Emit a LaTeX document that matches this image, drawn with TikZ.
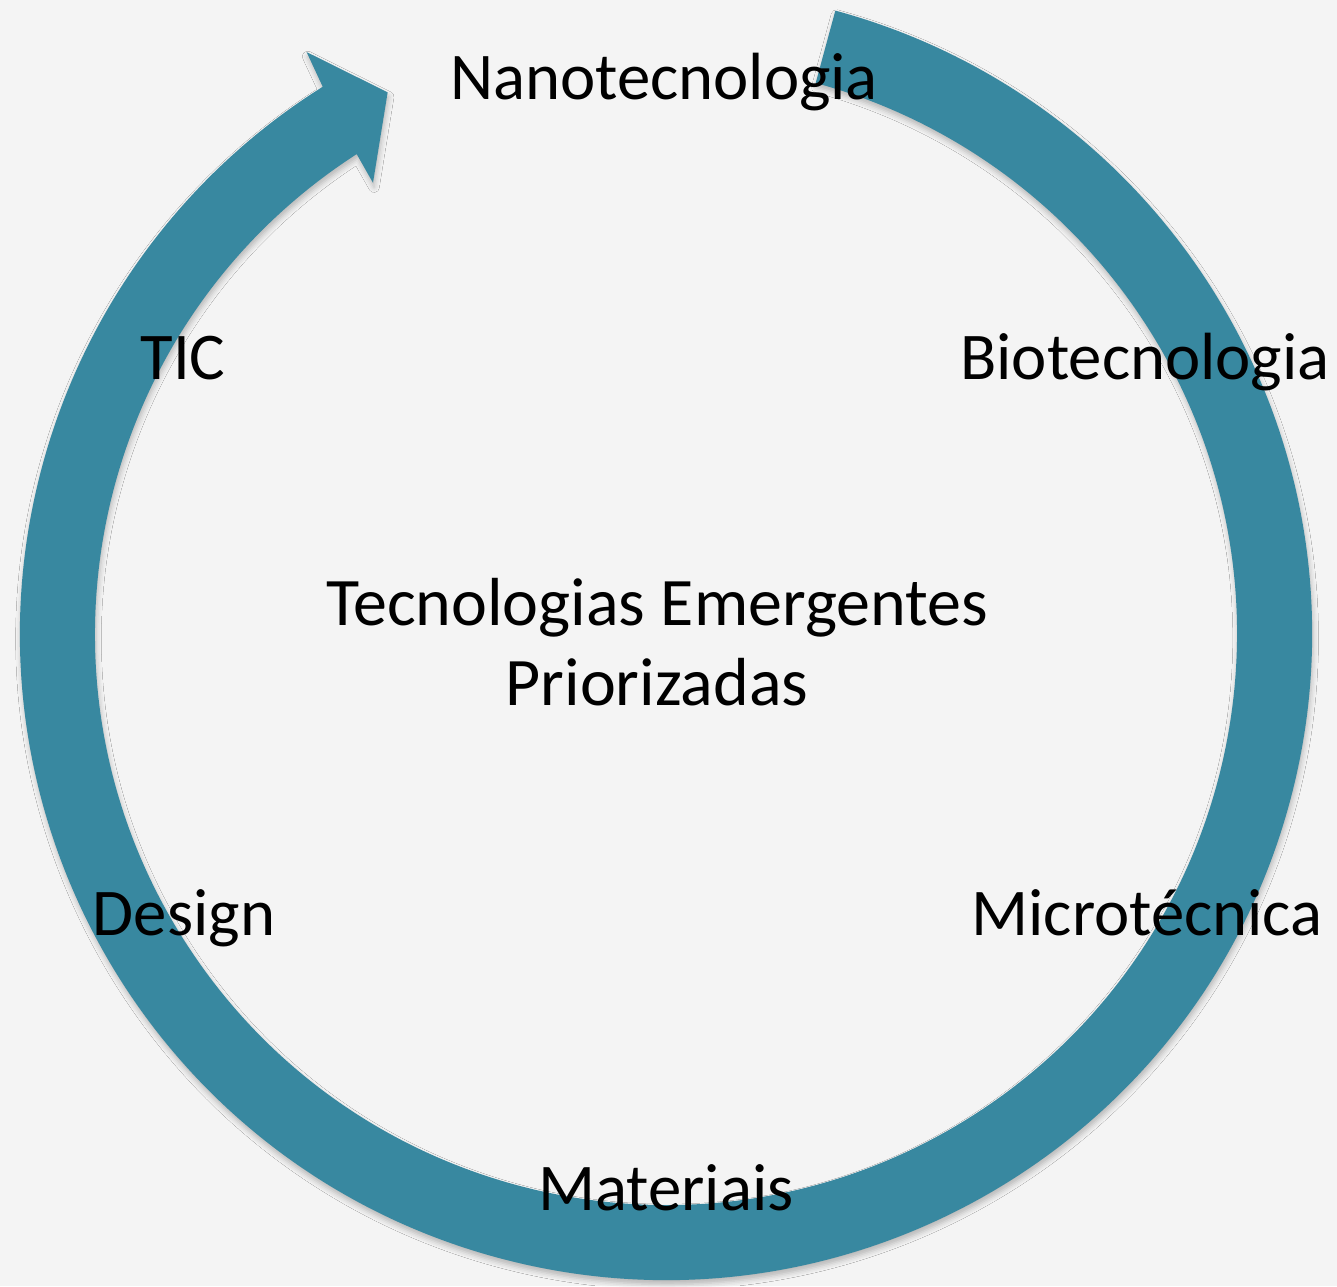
\documentclass[tikz,border=0pt]{standalone}
\usepackage{fontspec}
\setmainfont{Carlito}
\usepackage{tikz}
\usetikzlibrary{positioning,shadows.blur}

\definecolor{ringteal}{RGB}{56,136,160}
\definecolor{paper}{RGB}{244,244,244}

\begin{document}
\begin{tikzpicture}[x=0.02cm, y=0.02cm,
    ring/.style = {fill=ringteal, blur shadow={shadow xshift=0.6pt, shadow yshift=-2.5pt, shadow blur radius=3pt, shadow opacity=25}},
    lbl/.style = {font=\fontsize{38}{46}\selectfont, anchor=base, inner sep=0pt},
    every node/.style = {align=center}]
    \fill[paper] (0,0) rectangle (1337,1286);
    \useasboundingbox (0,0) rectangle (1337,1286);
    % the cycle arrow
    \begin{scope}[shift={(666,652)}]
      \fill[ring] (74.8:646) arc[start angle=74.8, end angle=-237.9, radius=646]
        -- (121.7:684) -- (117.2:609) -- (123:538)
        -- (122.8:571) arc[start angle=-237.2, end angle=74.8, radius=571] -- cycle;
    \end{scope}
    % labels round the ring
    \foreach \name/\px/\py/\txt in {nano/664/1186/Nanotecnologia, tic/183/906/TIC,
        bio/1145/906/Biotecnologia, design/184/351/Design,
        micro/1147/351/Microtécnica, mat/666/76/Materiais} {
      \node[lbl] (\name) at (\px,\py) {\txt};
    }
    % title in the middle
    \node[lbl, font=\fontsize{38.7}{46}\selectfont] (title) at (657,661) {Tecnologias Emergentes};
    \node[lbl, font=\fontsize{38.7}{46}\selectfont] (sub) at (657,581) {Priorizadas};
\end{tikzpicture}
\end{document}
